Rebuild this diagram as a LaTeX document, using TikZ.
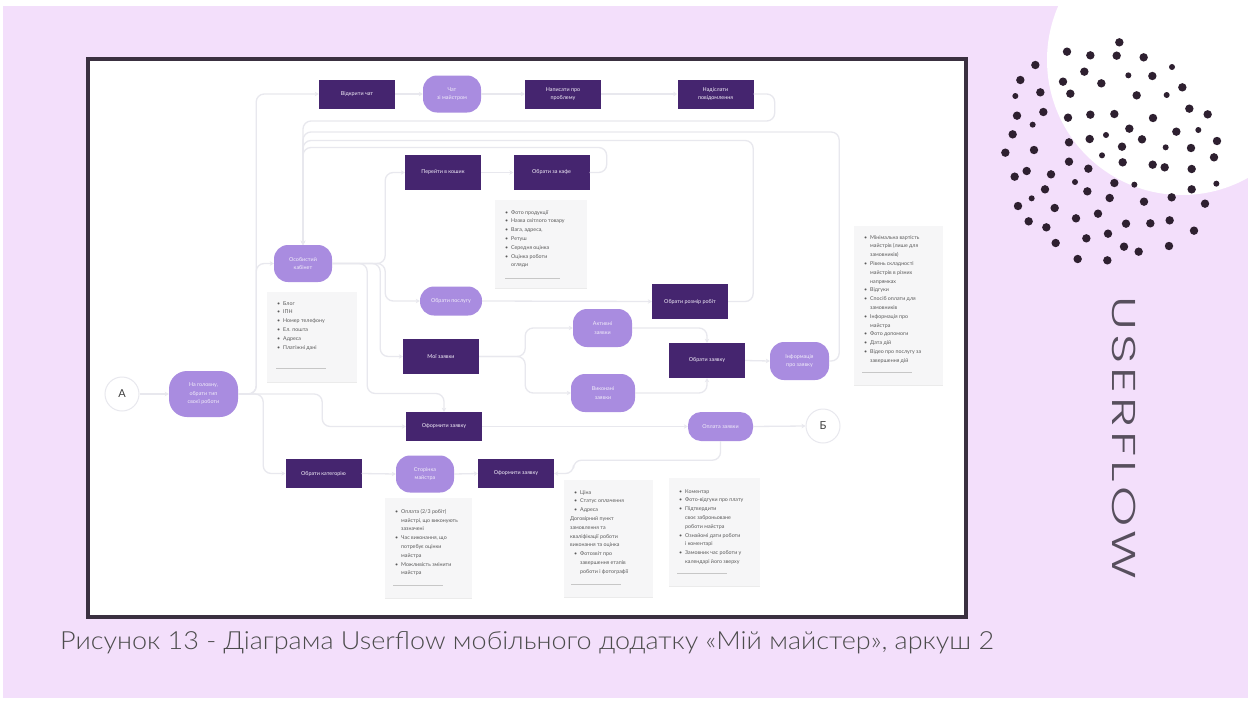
\documentclass[tikz,border=0pt]{standalone}
\usepackage{fontspec}
\setmainfont{Lato}
\newfontfamily\titlefont[FakeStretch=1.55,LetterSpace=12]{Poppins Light}
\newfontfamily\capfont[FakeStretch=1.08]{Lato Light}
\usetikzlibrary{arrows.meta,calc}
\definecolor{bgpink}{HTML}{F3DFFB}
\definecolor{darkbox}{HTML}{45256F}
\definecolor{pillc}{HTML}{A98CE0}
\definecolor{frameC}{HTML}{3A3040}
\definecolor{linec}{HTML}{E8E8EE}
\definecolor{notec}{HTML}{F6F6F7}
\definecolor{dotc}{HTML}{2E2030}
\newcommand{\nb}[1]{\makebox[6pt][l]{\textbullet}#1}
\newcommand{\nc}[1]{\hspace*{6pt}#1}
\newcommand{\notebody}[4]{\parbox[c][#2pt][t]{#1pt}{\raggedright\vspace*{#3pt}\hspace*{0pt}#4}}
\tikzset{
  darkn/.style={draw=none,fill=darkbox,text=white!88!pillc,minimum width=76pt,minimum height=29pt,inner sep=0pt,align=center,font=\fontsize{5.4}{8.5}\selectfont},
  darkt/.style={darkn,minimum height=35pt},
  pilln/.style={draw=none,fill=pillc,text=white!85!pillc,rounded corners=14pt,minimum width=58pt,minimum height=37pt,inner sep=0pt,align=center,font=\fontsize{5.4}{8.5}\selectfont},
  endn/.style={circle,draw=linec,fill=white,line width=1pt,minimum size=34pt,inner sep=0pt,text=black!75,font=\fontsize{11}{12}\selectfont},
  notebox/.style={fill=notec,draw=none,inner sep=0pt,text=black!65,font=\fontsize{5.3}{8.8}\selectfont},
  conn/.style={draw=linec,line width=1.3pt,rounded corners=8pt,-{Stealth[length=4pt,width=4.5pt]}},
  footl/.style={draw=black!22,line width=1pt},
  shade/.style={draw=black!8,line width=1.2pt}
}
\begin{document}
\begin{tikzpicture}[x=1pt,y=-1pt]
\useasboundingbox (0,0) rectangle (1258,704);
\fill[white] (0,0) rectangle (1258,704);
\fill[bgpink] (3,6) rectangle (1248,698);
\begin{scope}
\clip (3,6) rectangle (1248,698);
\fill[white] (1182,60) circle (135);
\end{scope}
\foreach \x/\y in {418/127,261/155,331/166,410/167,491/172,166/195,313/215,517/228,121/240,249/245,364/250,607/262,181/277,271/281,470/286,628/326,190/336,111/347,264/353,331/344,403/342,519/354,683/343,448/386,98/403,589/395,329/417,486/418,267/427,711/423,76/458,162/450,426/440,633/444,702/472,267/485,428/487,518/494,554/502,635/507,325/506,140/513,104/530,213/523,403/549,195/568,322/574,635/568,389/594,492/605,575/592,675/611,114/618,224/624,354/641,288/655,146/664,199/682,438/671,511/670,569/661,642/692,384/701,319/715,227/729,432/740,476/755,567/738,293/777,382/781}
  \fill[dotc] ({980+\x/3},{\y/3}) circle (4.2);
\foreach \x/\y in {445/226,576/201,560/285,106/288,158/374,378/405,655/390,557/442,366/466,285/546,463/554,709/551,155/595}
  \fill[dotc] ({980+\x/3},{\y/3}) circle (3);
\fill[white] (88,59) rectangle (966,617);
\draw[frameC,line width=4pt] (88,59) rectangle (966,617);
% nodes
\node[endn] (a) at (122,394) {А};
\node[pilln,minimum width=69pt,minimum height=46pt,rounded corners=18pt] (main) at (203.5,394) {На головну,\\обрати тип\\своєї роботи};
\node[darkn] (openchat) at (357,94) {Відкрити чат};
\node[pilln] (chat) at (452,94) {Чат\\зі майстром};
\node[darkn] (write) at (563,94) {Написати про\\проблему};
\node[darkn] (sendmsg) at (715.5,94) {Надіслати\\повідомлення};
\node[darkt] (basket) at (443,172.5) {Перейти в кошик};
\node[darkt] (pay) at (551.5,172.5) {Обрати за кафе};
\node[pilln] (cab) at (303,263.5) {Особистий\\кабінет};
\node[pilln,minimum width=62pt,minimum height=29pt,rounded corners=14pt] (records) at (451,301) {Обрати послугу};
\node[darkt] (master) at (690,301.5) {Обрати розмір робіт};
\node[darkt] (my) at (441,356.5) {Мої заявки};
\node[pilln,minimum width=59pt,minimum height=38pt] (act) at (602.5,328) {Активні\\заявки};
\node[pilln,minimum width=64pt,minimum height=38pt] (done) at (603,393) {Виконані\\заявки};
\node[darkt] (pick) at (707,360.5) {Обрати заявку};
\node[pilln,minimum width=59pt,minimum height=38pt] (status) at (799.5,361) {Інформація\\про заявку};
\node[darkn] (order) at (444,426.5) {Оформити заявку};
\node[pilln,minimum width=65pt,minimum height=29pt,rounded corners=13pt] (payo) at (720.5,426.5) {Оплата заявки};
\node[endn] (b) at (823,426) {Б};
\node[darkn] (cat) at (323.5,473.5) {Обрати категорію};
\node[pilln] (mast) at (425,474) {Сторінка\\майстра};
\node[darkn] (ordr) at (516,473.5) {Оформити заявку};
% connectors
\draw[conn] (a.east) -- (main.west);
\draw[conn] (main.east) -- ++(18,0) |- (openchat.west);
\draw[conn] (main.east) -- ++(18,0) |- (cab.west);
\draw[conn] (main.east) -- ++(84,0) |- (order.west);
\draw[conn] (main.east) -- ++(25,0) |- (cat.west);
\draw[conn] (openchat.east) -- (chat.west);
\draw[conn] (chat.east) -- (write.west);
\draw[conn] (write.east) -- (sendmsg.west);
\draw[conn] (sendmsg.east) -- ++(21,0) -- ++(0,27) -| (cab.north);
\draw[conn] (status.east) -- ++(10,0) -- ++(0,-229) -| (cab.north);
\draw[conn] (master.east) -- ++(25,0) -- ++(0,-161) -| (cab.north);
\draw[conn] (pay.east) -- ++(17,0) -- ++(0,-25) -| (cab.north);
\draw[conn] (cab.east) -- ++(53,0) |- (basket.west);
\draw[conn] (cab.east) -- ++(53,0) |- (records.west);
\draw[conn] (cab.east) -- ++(48,0) |- (my.west);
\draw[conn] (cab.east) -- ++(35,0) -- ++(0,130) -| (order.north);
\draw[conn] (basket.east) -- (pay.west);
\draw[conn] (records.east) -- (master.west);
\draw[conn] (my.east) -- ++(46,0) |- (act.west);
\draw[conn] (my.east) -- ++(46,0) |- (done.west);
\draw[conn] (act.east) -| (pick.north);
\draw[conn] (done.east) -| (pick.south);
\draw[conn] (pick.east) -- (status.west);
\draw[conn] (order.east) -- (payo.west);
\draw[conn] (payo.east) -- (b.west);
\draw[conn] (cat.east) -- (mast.west);
\draw[conn] (mast.east) -- (ordr.west);
\draw[conn] (payo.south) -- ++(0,19) -- ++(-147,0) |- (ordr.east);
% notes
\node[notebox,anchor=north west] (n1) at (495,200) {\notebody{92}{88}{10}{\hspace*{10pt}\nb{Фото продукції}\\\hspace*{10pt}\nb{Назва світлого товару}\\\hspace*{10pt}\nb{Вага, адреса,}\\\hspace*{10pt}\nb{Ретуш}\\\hspace*{10pt}\nb{Середня оцінка}\\\hspace*{10pt}\nb{Оцінка роботи}\\\hspace*{10pt}\nc{огляди}}};
\node[notebox,anchor=north west] (n2) at (267,292) {\notebody{90}{90}{9}{\hspace*{10pt}\nb{Блог}\\\hspace*{10pt}\nb{ІПН}\\\hspace*{10pt}\nb{Номер телефону}\\\hspace*{10pt}\nb{Ел. пошта}\\\hspace*{10pt}\nb{Адреса}\\\hspace*{10pt}\nb{Платіжні дані}}};
\node[notebox,anchor=north west] (n3) at (854,226) {\notebody{89}{159}{9}{\hspace*{10pt}\nb{Мінімальна вартість}\\\hspace*{10pt}\nc{майстрів (лише для}\\\hspace*{10pt}\nc{замовників)}\\\hspace*{10pt}\nb{Рівень складності}\\\hspace*{10pt}\nc{майстрів в різних}\\\hspace*{10pt}\nc{напрямках}\\\hspace*{10pt}\nb{Відгуки}\\\hspace*{10pt}\nb{Спосіб оплати для}\\\hspace*{10pt}\nc{замовників}\\\hspace*{10pt}\nb{Інформація про}\\\hspace*{10pt}\nc{майстра}\\\hspace*{10pt}\nb{Фото допомоги}\\\hspace*{10pt}\nb{Дата дій}\\\hspace*{10pt}\nb{Відео про послугу за}\\\hspace*{10pt}\nc{завершення дій}}};
\node[notebox,anchor=north west] (n4) at (385,498) {\notebody{87}{100}{11}{\hspace*{10pt}\nb{Оплата (2/3 робіт)}\\\hspace*{10pt}\nc{майстрі, що виконують}\\\hspace*{10pt}\nc{зазначені}\\\hspace*{10pt}\nb{Час виконання, що}\\\hspace*{10pt}\nc{потребує оцінки}\\\hspace*{10pt}\nc{майстра}\\\hspace*{10pt}\nb{Можливість змінити}\\\hspace*{10pt}\nc{майстра}}};
\node[notebox,anchor=north west] (n5) at (564,480) {\notebody{89}{117}{10}{\hspace*{10pt}\nb{Ціна}\\\hspace*{10pt}\nb{Статус оплачення}\\\hspace*{10pt}\nb{Адреса}\\\hspace*{6pt}Договірний пункт\\\hspace*{6pt}замовлення та\\\hspace*{6pt}кваліфікації роботи\\\hspace*{6pt}виконання та оцінка\\\hspace*{10pt}\nb{Фотозвіт про}\\\hspace*{10pt}\nc{завершення етапів}\\\hspace*{10pt}\nc{роботи і фотографії}}};
\node[notebox,anchor=north west] (n6) at (669,478) {\notebody{91}{108}{11}{\hspace*{10pt}\nb{Коментар}\\\hspace*{10pt}\nb{Фото-відгуки про плату}\\\hspace*{10pt}\nb{Підтвердити}\\\hspace*{10pt}\nc{своє заброньоване}\\\hspace*{10pt}\nc{роботи майстра}\\\hspace*{10pt}\nb{Ознайомі дати роботи}\\\hspace*{10pt}\nc{і коментарі}\\\hspace*{10pt}\nb{Замовник час роботи у}\\\hspace*{10pt}\nc{календарі його зверху}}};
\foreach \n/\a/\l/\y in {n1/505/55/278,n2/276/50/368,n3/862/50/372,n4/393/50/585,n5/571/50/584,n6/677/50/573}
  \draw[footl] (\a,\y) -- ++(\l,0);
\foreach \n in {n1,n2,n3,n4,n5,n6}
  \draw[shade] (\n.south west) -- (\n.south east);
% texts
\node[anchor=center,rotate=-90,text=frameC!85,font=\titlefont\fontsize{33}{36}\selectfont] (title) at (1124,438) {USERFLOW};
\node[anchor=west,inner sep=0pt,text=black!70,font=\capfont\fontsize{25}{28}\selectfont] (cap) at (60,643) {Рисунок 13 - Діаграма Userflow мобільного додатку «Мій майстер», аркуш 2};
\end{tikzpicture}
\end{document}
